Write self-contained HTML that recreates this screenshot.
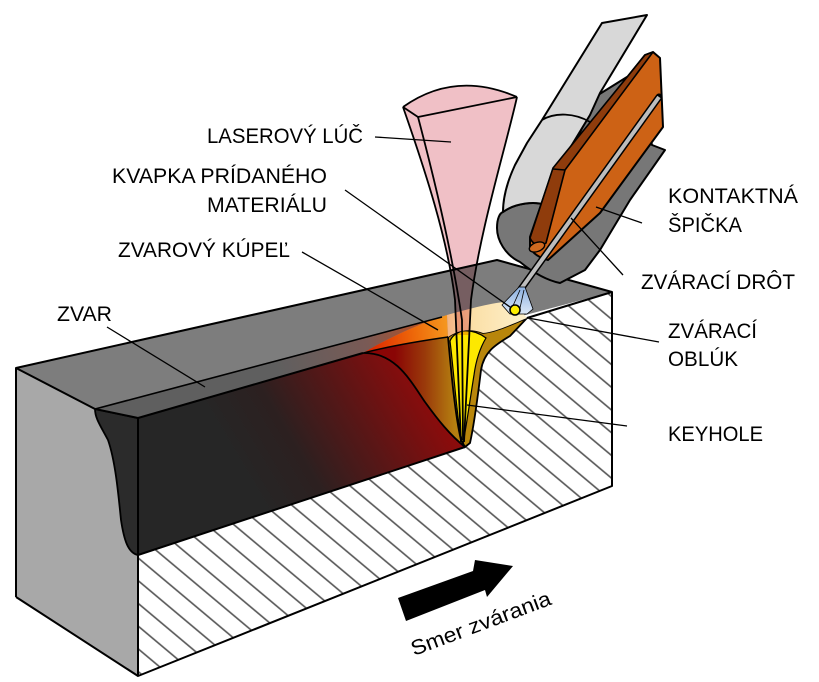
<!DOCTYPE html>
<html>
<head>
<meta charset="utf-8">
<style>
html,body{margin:0;padding:0;background:#fff;}
svg{display:block;}
text{font-family:"Liberation Sans","DejaVu Sans",sans-serif;fill:#000;}
</style>
</head>
<body>
<svg width="819" height="682" viewBox="0 0 819 682" xmlns="http://www.w3.org/2000/svg">
<defs>
  <pattern id="hatch" patternUnits="userSpaceOnUse" width="40" height="17.4" patternTransform="rotate(40)">
    <line x1="0" y1="8" x2="40" y2="8" stroke="#555" stroke-width="1.7"/>
  </pattern>
  <linearGradient id="gDark" gradientUnits="userSpaceOnUse" x1="240" y1="470" x2="410" y2="370">
    <stop offset="0" stop-color="#262626"/>
    <stop offset="0.3" stop-color="#2c2020"/>
    <stop offset="0.65" stop-color="#5a1616"/>
    <stop offset="1" stop-color="#8a0c0c"/>
  </linearGradient>
  <linearGradient id="gInner" gradientUnits="userSpaceOnUse" x1="395" y1="380" x2="455" y2="380">
    <stop offset="0" stop-color="#8a0505"/>
    <stop offset="0.5" stop-color="#9a3a0a"/>
    <stop offset="1" stop-color="#b58010"/>
  </linearGradient>
  <linearGradient id="gStrip" gradientUnits="userSpaceOnUse" x1="280" y1="380" x2="445" y2="330">
    <stop offset="0" stop-color="#5f5f5f"/>
    <stop offset="0.55" stop-color="#7a5a55"/>
    <stop offset="0.85" stop-color="#b0502a"/>
    <stop offset="1" stop-color="#e06a1a"/>
  </linearGradient>
  <linearGradient id="gOrange" gradientUnits="userSpaceOnUse" x1="363" y1="340" x2="450" y2="330">
    <stop offset="0" stop-color="#d82000"/>
    <stop offset="0.6" stop-color="#ee6a0a"/>
    <stop offset="1" stop-color="#f59a20"/>
  </linearGradient>
  <linearGradient id="gPale" gradientUnits="userSpaceOnUse" x1="445" y1="320" x2="527" y2="320">
    <stop offset="0" stop-color="#f2b080"/>
    <stop offset="0.35" stop-color="#fbe0a8"/>
    <stop offset="1" stop-color="#fdf0cc"/>
  </linearGradient>
  <linearGradient id="gBlue" gradientUnits="userSpaceOnUse" x1="0" y1="287" x2="0" y2="314">
    <stop offset="0" stop-color="#8cb0e0"/>
    <stop offset="1" stop-color="#dce8f6"/>
  </linearGradient>
</defs>

<rect width="819" height="682" fill="#fff"/>

<!-- top face -->
<polygon points="16,368 497,260 612,292 138,418 95,409" fill="#7d7d7d"/>
<!-- left end face -->
<polygon points="16,368 95,409 138,418 138,676 16,597" fill="#a8a8a8"/>
<path d="M95,409 L138,418 L138,555 C128,553 124,540 121,520 C118,490 115,460 108,440 C100,425 95,418 95,409 Z" fill="#2b2b2b" stroke="#000" stroke-width="1.8"/>

<!-- hatched section -->
<path d="M138,555 L465,447 L470,443 C474,425 478,395 481,370 C484,352 495,345 510,336 L527,318 L612,292 L612,486 L138,676 Z" fill="#fff"/>
<path d="M138,555 L465,447 L470,443 C474,425 478,395 481,370 C484,352 495,345 510,336 L527,318 L612,292 L612,486 L138,676 Z" fill="url(#hatch)"/>

<!-- dark weld cut -->
<path d="M138,418 L363,353 C390,346 420,341 448,337 C451,370 455,415 461,440 L465,447 L138,555 Z" fill="url(#gDark)"/>
<!-- inner molten region -->
<path d="M363,353 C395,352 410,380 425,402 C438,420 450,435 465,447 L461,440 C455,415 451,370 448,337 C420,341 390,346 363,353 Z" fill="url(#gInner)"/>
<path d="M363,353 C395,352 410,380 425,402 C438,420 450,435 465,447" fill="none" stroke="#000" stroke-width="1.8"/>

<!-- weld strip on top -->
<path d="M95,409 L442,317 C415,325 385,340 363,353 L138,418 Z" fill="url(#gStrip)"/>
<!-- orange pool top -->
<path d="M363,353 C385,340 415,325 447,315 L448,337 C420,341 390,346 363,353 Z" fill="url(#gOrange)"/>
<path d="M363,353 C390,346 420,341 448,337" fill="none" stroke="#000" stroke-width="1.4"/>

<!-- keyhole brown -->
<path d="M448,337 C451,370 455,415 461,440 L465,447 L470,443 C474,425 478,395 481,370 C484,352 495,345 510,336 L527,318 C510,325 495,332 483,333 C470,328 458,330 448,337 Z" fill="#b8860b" stroke="#000" stroke-width="1.8"/>
<!-- keyhole yellow -->
<path d="M450,341 C453,365 456,405 460,432 L463,444 C466,428 470,400 474,375 C476,360 480,348 486,338 C478,332 470,330 462,331 C456,333 452,336 450,341 Z" fill="#fde800" stroke="#000" stroke-width="1.2"/>
<!-- pale pool top -->
<path d="M447,315 C465,310 490,303 505,302 L515,304 L527,318 C510,325 495,332 483,333 C470,328 458,330 448,337 Z" fill="url(#gPale)"/>

<!-- block outlines -->
<g stroke="#000" stroke-width="2" fill="none" stroke-linejoin="round">
  <polyline points="16,597 16,368 497,260 612,292 612,486 138,676 16,597"/>
  <polyline points="16,368 95,409 138,418 138,676"/>
  <line x1="138" y1="418" x2="363" y2="353"/>
  <line x1="527" y1="318" x2="612" y2="292"/>
  <line x1="95" y1="409" x2="442" y2="317" stroke-width="1.6"/>
  <line x1="138" y1="555" x2="465" y2="447"/>
</g>

<!-- torch: dark gray body -->
<path d="M598,95 L635,72 L652,145 L665,150 L630,200 L600,250 L585,270 L560,283 C545,280 530,270 520,262 C505,255 497,240 497,228 C497,218 500,213 503,212 C515,203 535,201 545,205 Z" fill="#777" stroke="#000" stroke-width="2" stroke-linejoin="round"/>
<!-- torch: light gray nozzle -->
<path d="M602,23 L647,15 L600,93 L590,115 L567,153 L545,205 C535,201 515,203 503,212 C503,195 508,180 515,165 L527,143 L542,120 Z" fill="#d8d8d8" stroke="#000" stroke-width="2" stroke-linejoin="round"/>
<path d="M542,120 C555,112 575,113 590,122" fill="none" stroke="#000" stroke-width="1.8"/>
<!-- copper tip -->
<path d="M645,55 L653,52 L660,58 L663,127 L600,213 L548,260 C540,258 533,254 530,247 L530,237 L553,170 Z" fill="#cd6215" stroke="#000" stroke-width="2" stroke-linejoin="round"/>
<path d="M645,55 L653,52 L565,170 L546,243 C540,247 533,245 530,238 L553,168 Z" fill="#8f3c0c" stroke="#000" stroke-width="1.6" stroke-linejoin="round"/>
<line x1="553" y1="169" x2="565" y2="170" stroke="#000" stroke-width="1.4"/>
<ellipse cx="537" cy="247" rx="8" ry="4.5" transform="rotate(-20 537 247)" fill="#d06a20" stroke="#000" stroke-width="1.4"/>
<line x1="652" y1="108" x2="542" y2="257" stroke="#000" stroke-width="1.3"/>
<!-- wire -->
<line x1="659" y1="97" x2="521" y2="289" stroke="#000" stroke-width="7" stroke-linecap="round"/>
<line x1="659" y1="97" x2="521" y2="289" stroke="#bdbdbd" stroke-width="4"/>

<!-- arc cone -->
<path d="M519,287 L525,287 L533,309 L527,314 L510,314 L502,305 Z" fill="url(#gBlue)" stroke="#000" stroke-width="0.8"/>
<line x1="520" y1="290" x2="512" y2="308" stroke="#000" stroke-width="0.8"/>
<line x1="524" y1="290" x2="520" y2="308" stroke="#000" stroke-width="0.8"/>
<circle cx="515" cy="310" r="5" fill="#ffee00" stroke="#000" stroke-width="1.6"/>

<!-- laser beam -->
<path d="M403,107 Q455,70 517,97 C505,150 480,230 471,300 L469,335 L457,335 L455,300 C448,240 425,170 403,107 Z" fill="#f0c0c6" style="mix-blend-mode:multiply"/>
<g fill="none" stroke="#000" stroke-width="1.8" stroke-linejoin="round">
  <path d="M403,107 C425,170 448,240 455,300 L461,442"/>
  <path d="M517,97 C505,150 480,230 471,300 L464,442"/>
  <path d="M418,117 C432,170 452,250 462,320 L463,440"/>
  <path d="M403,107 Q455,70 517,97"/>
  <path d="M403,107 L418,117 L517,97"/>
</g>

<!-- leader lines -->
<g stroke="#000" stroke-width="1.3" fill="none">
  <line x1="375" y1="137" x2="451" y2="142"/>
  <line x1="345" y1="190" x2="510" y2="307"/>
  <line x1="302" y1="252" x2="438" y2="330"/>
  <line x1="107" y1="327" x2="205" y2="387"/>
  <line x1="642" y1="223" x2="596" y2="207"/>
  <line x1="623" y1="275" x2="571" y2="218"/>
  <line x1="528" y1="318" x2="659" y2="342"/>
  <line x1="467" y1="405" x2="627" y2="426"/>
</g>

<!-- labels -->
<g font-size="21.5">
  <text x="207" y="143" textLength="156" lengthAdjust="spacingAndGlyphs">LASEROVÝ LÚČ</text>
  <text x="112" y="183" textLength="215" lengthAdjust="spacingAndGlyphs">KVAPKA PRÍDANÉHO</text>
  <text x="207" y="212" textLength="120" lengthAdjust="spacingAndGlyphs">MATERIÁLU</text>
  <text x="118" y="257" textLength="172" lengthAdjust="spacingAndGlyphs">ZVAROVÝ KÚPEĽ</text>
  <text x="57" y="321" textLength="55" lengthAdjust="spacingAndGlyphs">ZVAR</text>
  <text x="668" y="203" textLength="130" lengthAdjust="spacingAndGlyphs">KONTAKTNÁ</text>
  <text x="668" y="232" textLength="74" lengthAdjust="spacingAndGlyphs">ŠPIČKA</text>
  <text x="641" y="289" textLength="154" lengthAdjust="spacingAndGlyphs">ZVÁRACÍ DRÔT</text>
  <text x="668" y="338" textLength="89" lengthAdjust="spacingAndGlyphs">ZVÁRACÍ</text>
  <text x="668" y="366" textLength="70" lengthAdjust="spacingAndGlyphs">OBLÚK</text>
  <text x="668" y="441" textLength="95" lengthAdjust="spacingAndGlyphs">KEYHOLE</text>
</g>

<!-- direction arrow -->
<polygon points="398,598 473,571 475,560 513,566 487,597 485,590 406,621" fill="#000"/>
<text x="414" y="656" font-size="21" textLength="148" lengthAdjust="spacingAndGlyphs" transform="rotate(-20.5 414 656)">Smer zvárania</text>
</svg>
</body>
</html>
